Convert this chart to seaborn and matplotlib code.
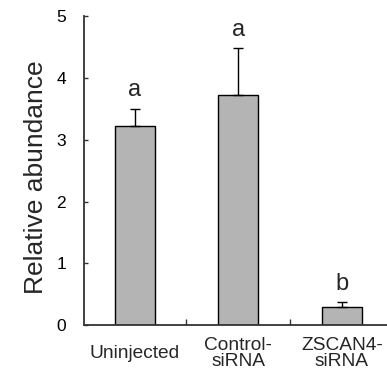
import matplotlib
matplotlib.use("Agg")
import matplotlib.pyplot as plt
import seaborn as sns
import pandas as pd

# Data
groups = ["Uninjected", "Control-\nsiRNA", "ZSCAN4-\nsiRNA"]
means = [3.22, 3.72, 0.30]
errors = [0.28, 0.76, 0.07]
letters = ["a", "a", "b"]

df = pd.DataFrame({"group": groups, "abundance": means})

sns.set_style("ticks")
plt.rcParams["font.family"] = ["Liberation Sans", "DejaVu Sans"]

fig = plt.figure(figsize=(3.87, 3.71), dpi=100)
ax = fig.add_axes([0.217, 0.123, 0.80, 0.834])

sns.barplot(
    data=df,
    x="group",
    y="abundance",
    color="#b4b4b4",
    saturation=1,
    width=0.39,
    edgecolor="black",
    linewidth=1,
    errorbar=None,
    ax=ax,
)

# upward-only error bars
ax.errorbar(
    range(len(groups)),
    means,
    yerr=[[0] * len(groups), errors],
    fmt="none",
    ecolor="black",
    elinewidth=1,
    capsize=3.5,
    capthick=1,
    zorder=1,
)

for i, (m, e, t) in enumerate(zip(means, errors, letters)):
    ax.text(i, m + e + 0.12, t, ha="center", va="bottom", fontsize=17)

ax.set_ylim(0, 5)
ax.set_xlim(-0.49, 2.5)
ax.set_yticks([0, 1, 2, 3, 4, 5])
ax.tick_params(axis="y", direction="in", length=3, width=1,
               labelsize=12.5, pad=13, colors="#333333", labelcolor="black")

# ticks between categories, labels centred under bars
ax.set_xticks([0.5, 1.5])
ax.set_xticklabels([])
ax.set_xticks([0, 1, 2], minor=True)
ax.set_xticklabels(groups, minor=True, fontsize=13.8, linespacing=0.92)
ax.tick_params(axis="x", which="minor", length=0, pad=20)
ax.tick_params(axis="x", which="major", direction="in", length=4, width=1,
               colors="#333333")
for lab in ax.get_xticklabels(minor=True):
    lab.set_va("center")

ax.set_xlabel("")
ax.set_ylabel("Relative abundance", fontsize=19, labelpad=6)
ax.yaxis.label.set_y(0.48)

sns.despine(ax=ax)
for side in ["left", "bottom"]:
    ax.spines[side].set_linewidth(1.3)
    ax.spines[side].set_color("#333333")

fig.savefig("out.png", dpi=100)
